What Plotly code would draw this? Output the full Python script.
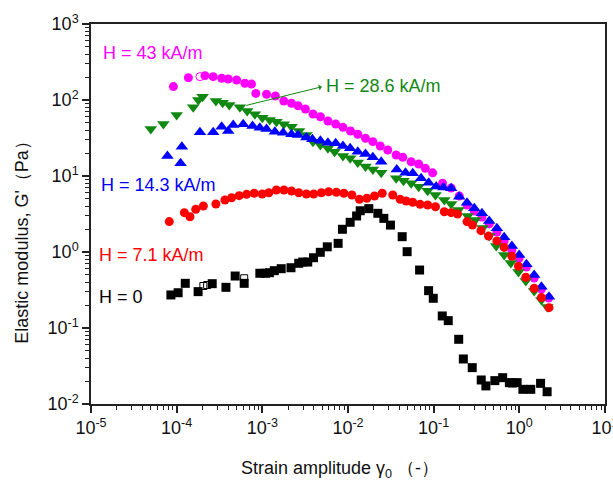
import plotly.graph_objects as go

# Strain sweeps of the elastic modulus G' under different magnetic field strengths

# H = 43 kA/m
h43_strain = [9.16e-5, 1.37e-4, 2.14e-4, 2.67e-4, 3.35e-4, 4.0e-4, 5.01e-4, 6.25e-4, 7.48e-4, 8.4e-4,
              1.12e-3, 1.42e-3, 1.78e-3, 2.19e-3, 2.61e-3, 3.18e-3, 3.90e-3, 4.76e-3, 5.83e-3, 7.18e-3,
              8.73e-3, 1.07e-2, 1.30e-2, 1.60e-2, 1.95e-2, 2.38e-2, 2.91e-2, 3.65e-2, 4.36e-2, 5.46e-2,
              6.68e-2, 8.0e-2, 9.73e-2, 0.127, 0.160, 0.199, 0.245, 0.298, 0.366, 0.445,
              0.547, 0.665, 0.818, 0.995, 1.21, 1.49, 1.81, 2.20]
h43_modulus = [150, 196, 209, 203, 193, 189, 183, 166, 162, 122,
               119, 113, 97, 90.5, 84.1, 76.2, 65.5, 60.3, 52.9, 48.3,
               43.7, 39.1, 35.4, 31.3, 28.3, 24.8, 22.0, 18.9, 17.6, 15.4,
               14.4, 12.6, 11.0, 8.02, 6.95, 5.46, 4.15, 3.46, 2.89, 2.34,
               1.83, 1.40, 1.06, 0.834, 0.635, 0.455, 0.326, 0.248]
h43_open_strain = [1.87e-4]
h43_open_modulus = [203]

# H = 28.6 kA/m
h28_strain = [4.99e-5, 7.0e-5, 1.0e-4, 1.56e-4, 1.79e-4, 2.01e-4, 2.87e-4, 3.44e-4, 4.11e-4, 5.47e-4,
              6.65e-4, 8.18e-4, 1.0e-3, 1.22e-3, 1.46e-3, 1.78e-3, 2.19e-3, 2.68e-3, 3.27e-3, 3.90e-3,
              4.76e-3, 5.83e-3, 6.98e-3, 8.73e-3, 1.06e-2, 1.30e-2, 1.60e-2, 1.95e-2, 2.44e-2, 3.65e-2,
              4.44e-2, 5.46e-2, 6.68e-2, 8.51e-2, 0.105, 0.133, 0.160, 0.195, 0.249, 0.306,
              0.372, 0.445, 0.537, 0.665, 0.796, 0.977, 1.19, 1.49, 1.81, 2.12]
h28_modulus = [41.5, 48.3, 63.5, 80.2, 100, 110, 97, 92, 86, 80,
               71.6, 64.9, 58.5, 54.6, 51.8, 47.9, 44.5, 39.1, 34.6, 28.3,
               25.6, 23.1, 20.9, 18.3, 17.1, 15.0, 13.3, 12.2, 11.0, 9.33,
               8.67, 8.02, 7.23, 6.41, 5.62, 4.83, 4.28, 3.57, 2.98, 2.64,
               2.07, 1.62, 1.20, 0.914, 0.716, 0.546, 0.415, 0.307, 0.233, 0.189]

# H = 14.3 kA/m
h14_strain = [7.8e-5, 1.11e-4, 1.15e-4, 1.87e-4, 2.67e-4, 3.35e-4, 4.0e-4, 4.57e-4, 5.98e-4, 7.69e-4,
              9.35e-4, 1.12e-3, 1.40e-3, 1.75e-3, 2.19e-3, 2.61e-3, 3.27e-3, 3.84e-3, 4.76e-3, 5.83e-3,
              7.18e-3, 8.73e-3, 1.06e-2, 1.30e-2, 1.60e-2, 1.95e-2, 2.44e-2, 3.71e-2, 4.69e-2, 5.70e-2,
              7.13e-2, 8.75e-2, 0.107, 0.130, 0.160, 0.199, 0.245, 0.298, 0.366, 0.445,
              0.547, 0.665, 0.818, 0.995, 1.21, 1.49, 1.81, 2.22]
h14_modulus = [18.3, 14.7, 24.3, 37.6, 37.6, 44.5, 39.1, 46.9, 47.9, 45.5,
               43.2, 41.5, 38.3, 37.1, 35.4, 34.6, 32.1, 30.4, 29.1, 27.4,
               26.9, 24.8, 23.1, 20.9, 19.5, 17.6, 15.4, 12.2, 11.0, 10.9,
               9.33, 8.17, 7.28, 7.06, 6.89, 5.34, 4.46, 3.76, 3.23, 2.56,
               2.05, 1.56, 1.20, 0.914, 0.689, 0.498, 0.349, 0.258]

# H = 7.1 kA/m
h7_strain = [8.2e-5, 1.23e-4, 1.43e-4, 1.67e-4, 2.05e-4, 2.87e-4, 3.66e-4, 4.38e-4, 5.37e-4, 6.55e-4,
             8.03e-4, 9.95e-4, 1.19e-3, 1.46e-3, 1.79e-3, 2.19e-3, 2.66e-3, 3.27e-3, 3.98e-3, 4.89e-3,
             5.94e-3, 7.31e-3, 8.95e-3, 1.11e-2, 1.36e-2, 1.66e-2, 2.04e-2, 2.51e-2, 3.33e-2, 4.06e-2,
             4.77e-2, 5.70e-2, 6.95e-2, 8.51e-2, 0.105, 0.133, 0.160, 0.190, 0.245, 0.284,
             0.356, 0.437, 0.547, 0.665, 0.818, 0.977, 1.19, 1.49, 1.81, 2.22]
h7_modulus = [2.51, 3.29, 2.91, 3.65, 4.03, 4.28, 4.83, 5.18, 5.51, 5.74,
              5.92, 5.80, 6.03, 6.54, 6.54, 6.35, 6.03, 5.80, 5.80, 6.03,
              6.21, 6.11, 5.92, 5.62, 4.93, 5.09, 5.46, 5.92, 5.62, 4.93,
              4.69, 4.51, 4.24, 4.15, 3.94, 3.39, 3.29, 3.16, 2.51, 2.26,
              1.91, 1.62, 1.40, 1.15, 0.88, 0.65, 0.465, 0.333, 0.251, 0.185]

# H = 0
h0_strain = [8.56e-5, 1.04e-4, 1.26e-4, 1.78e-4, 2.60e-4, 3.76e-4, 4.82e-4, 6.14e-4, 9.35e-4, 1.09e-3,
             1.21e-3, 1.38e-3, 1.66e-3, 2.16e-3, 2.66e-3, 2.96e-3, 3.39e-3, 3.96e-3, 4.75e-3, 5.73e-3,
             7.67e-3, 8.61e-3, 1.06e-2, 1.26e-2, 1.39e-2, 1.75e-2, 2.23e-2, 2.62e-2, 3.13e-2, 4.29e-2,
             4.90e-2, 6.85e-2, 8.73e-2, 9.89e-2, 0.126, 0.148, 0.196, 0.222, 0.282, 0.359,
             0.407, 0.518, 0.639, 0.765, 0.832, 0.942, 1.10, 1.36, 1.77, 2.11]
h0_modulus = [0.272, 0.291, 0.387, 0.301, 0.383, 0.343, 0.483, 0.387, 0.525, 0.525,
              0.534, 0.568, 0.603, 0.621, 0.710, 0.738, 0.738, 0.841, 0.991, 1.17,
              1.30, 1.99, 2.46, 2.98, 3.49, 3.72, 3.23, 2.77, 2.26, 1.59,
              1.01, 0.579, 0.310, 0.246, 0.144, 0.125, 0.0710, 0.0391, 0.0301, 0.0207,
              0.0173, 0.0203, 0.0222, 0.0191, 0.0189, 0.0191, 0.0156, 0.0156, 0.0187, 0.0145]
h0_open_strain = [2.05e-4, 2.27e-4, 6.14e-4]
h0_open_modulus = [0.357, 0.368, 0.451]

# Axis ticks and labels
x_tickvals = [1e-5, 1e-4, 1e-3, 1e-2, 1e-1, 1e0, 1e1]
x_ticktext = ["10<sup>-5</sup>", "10<sup>-4</sup>", "10<sup>-3</sup>", "10<sup>-2</sup>",
              "10<sup>-1</sup>", "10<sup>0</sup>", "10<sup>1</sup>"]
y_tickvals = [1e-2, 1e-1, 1e0, 1e1, 1e2, 1e3]
y_ticktext = ["10<sup>-2</sup>", "10<sup>-1</sup>", "10<sup>0</sup>", "10<sup>1</sup>",
              "10<sup>2</sup>", "10<sup>3</sup>"]

# Field labels: text, colour, paper x (left edge), paper y (middle)
field_labels = [
    ("H = 43 kA/m", "#ff00ff", 0.019, 0.923),
    ("H = 28.6 kA/m", "#118811", 0.454, 0.837),
    ("H = 14.3 kA/m", "#0000ff", 0.015, 0.576),
    ("H = 7.1 kA/m", "#ff0000", 0.012, 0.392),
    ("H = 0", "#000000", 0.012, 0.281),
]

MAGENTA = "#ff00ff"
GREEN = "#118811"
BLUE = "#0000ff"
RED = "#ff0000"
BLACK = "#000000"
FONT = "Arial, Liberation Sans, sans-serif"

fig = go.Figure()

def add_series(x, y, symbol, color, size, line_color=None):
    fig.add_trace(go.Scatter(
        x=x, y=y, mode="markers", showlegend=False,
        marker=dict(symbol=symbol, color=color, size=size,
                    line=dict(width=0 if line_color is None else 1, color=line_color or color)),
    ))

add_series(h43_strain, h43_modulus, "circle", MAGENTA, 9)
add_series(h43_open_strain, h43_open_modulus, "circle-open", MAGENTA, 8, MAGENTA)
add_series(h28_strain, h28_modulus, "triangle-down", GREEN, 11)
add_series(h14_strain, h14_modulus, "triangle-up", BLUE, 11)
add_series(h7_strain, h7_modulus, "circle", RED, 9)
add_series(h0_strain, h0_modulus, "square", BLACK, 9)
add_series(h0_open_strain, h0_open_modulus, "square-open", BLACK, 7, BLACK)

annotations = []
for text, color, px, py in field_labels:
    annotations.append(dict(
        text=text, xref="paper", yref="paper", x=px, y=py,
        xanchor="left", yanchor="middle", showarrow=False,
        font=dict(family=FONT, size=18, color=color),
    ))

# Arrow from the H = 28.6 kA/m data towards its label
annotations.append(dict(
    text="", xref="x", yref="y", x=-3.187, y=1.929,
    ax=77, ay=-19, axref="pixel", ayref="pixel",
    showarrow=True, arrowside="start", arrowhead=2, arrowsize=1.2,
    arrowwidth=1, arrowcolor=GREEN,
))

# Axis titles
annotations.append(dict(
    text="Strain amplitude γ<sub>0</sub> （-）", xref="paper", yref="paper",
    x=0.484, y=-0.172, xanchor="center", yanchor="middle", showarrow=False,
    font=dict(family=FONT, size=18, color="#111111"),
))
annotations.append(dict(
    text="Elastic modulus, G'（Pa）", xref="paper", yref="paper",
    x=-0.136, y=0.438, xanchor="center", yanchor="middle", showarrow=False,
    textangle=-90, font=dict(family=FONT, size=18, color="#111111"),
))

axis_common = dict(
    type="log", showgrid=False, zeroline=False, automargin=False,
    showline=True, linecolor="#222222", linewidth=1.5, mirror=True,
    ticks="outside", ticklen=7, tickwidth=1.5, tickcolor="#222222",
    tickmode="array", ticklabeloverflow="allow",
    tickfont=dict(family=FONT, size=18, color="#111111"),
    minor=dict(ticks="outside", ticklen=4, tickwidth=1, tickcolor="#222222",
               dtick="D1", showgrid=False),
)

fig.update_layout(
    width=613, height=491,
    margin=dict(l=91, r=8, t=24, b=87),
    paper_bgcolor="white", plot_bgcolor="white",
    xaxis=dict(range=[-5, 1], tickvals=x_tickvals, ticktext=x_ticktext, **axis_common),
    yaxis=dict(range=[-2, 3], tickvals=y_tickvals, ticktext=y_ticktext, **axis_common),
    annotations=annotations,
)

fig.write_html("out.html")
